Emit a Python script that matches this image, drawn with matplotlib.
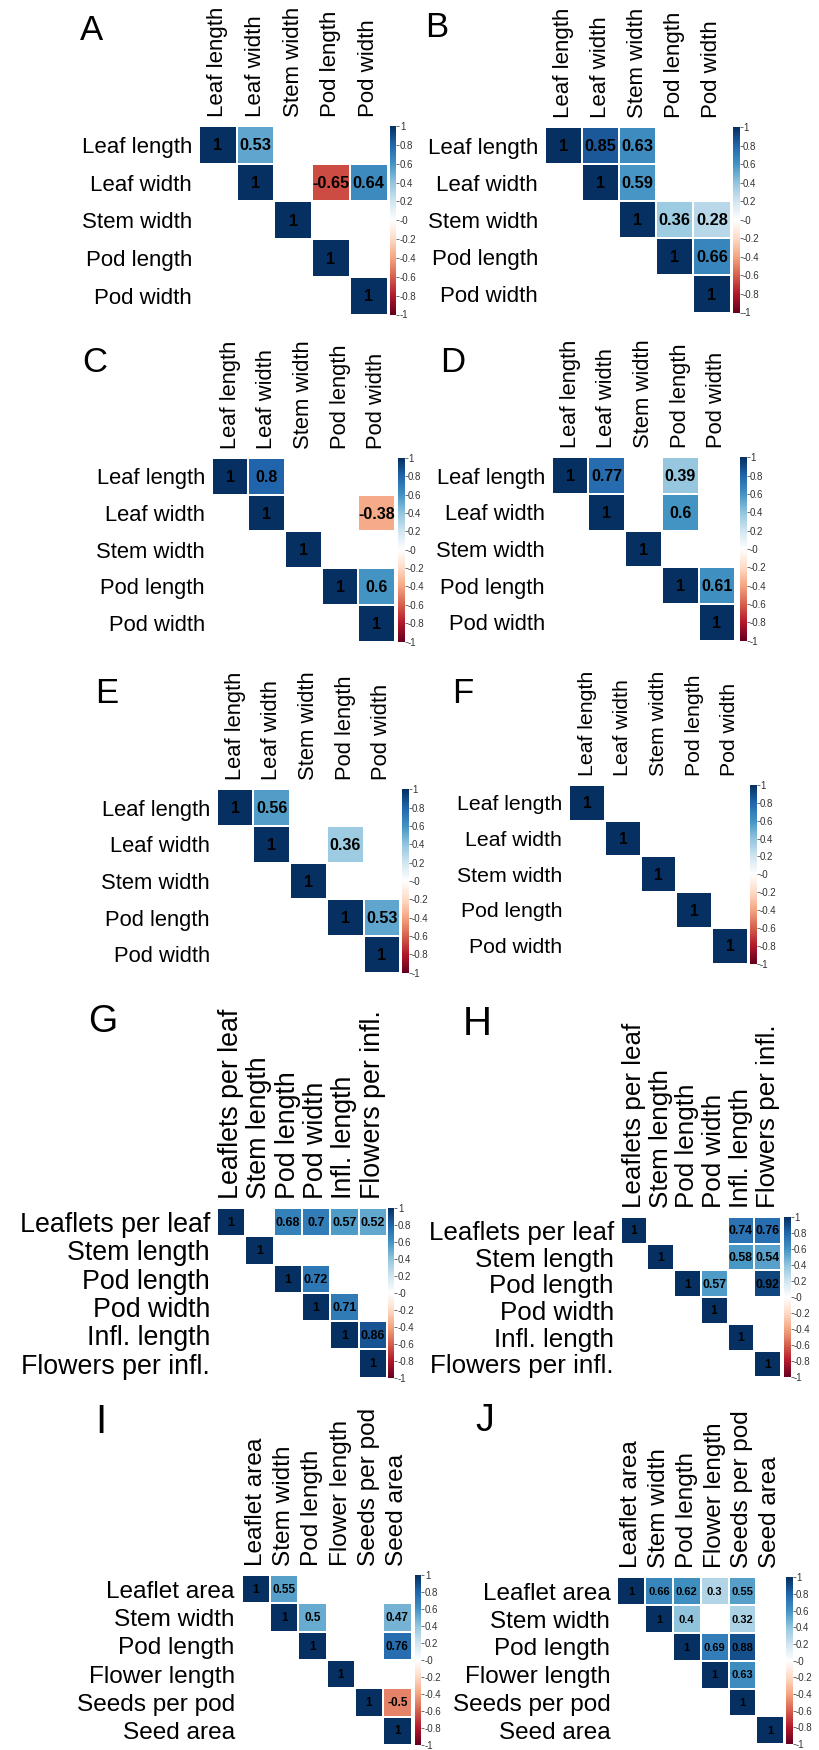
import matplotlib
matplotlib.use("Agg")
import matplotlib.pyplot as plt
import numpy as np
from matplotlib.colors import LinearSegmentedColormap
from matplotlib.cm import ScalarMappable
from matplotlib.colors import Normalize

plt.rcParams['font.family'] = ['Liberation Sans', 'DejaVu Sans']

n = np.nan

# trait names
traits_af = ['Leaf length', 'Leaf width', 'Stem width', 'Pod length', 'Pod width']
traits_gh = ['Leaflets per leaf', 'Stem length', 'Pod length', 'Pod width',
             'Infl. length', 'Flowers per infl.']
traits_ij = ['Leaflet area', 'Stem width', 'Pod length', 'Flower length',
             'Seeds per pod', 'Seed area']

# significant correlations only (upper triangle), blanks are nan
corr_A = [[1, 0.53, n, n, n],
          [n, 1, n, -0.65, 0.64],
          [n, n, 1, n, n],
          [n, n, n, 1, n],
          [n, n, n, n, 1]]
corr_B = [[1, 0.85, 0.63, n, n],
          [n, 1, 0.59, n, n],
          [n, n, 1, 0.36, 0.28],
          [n, n, n, 1, 0.66],
          [n, n, n, n, 1]]
corr_C = [[1, 0.8, n, n, n],
          [n, 1, n, n, -0.38],
          [n, n, 1, n, n],
          [n, n, n, 1, 0.6],
          [n, n, n, n, 1]]
corr_D = [[1, 0.77, n, 0.39, n],
          [n, 1, n, 0.6, n],
          [n, n, 1, n, n],
          [n, n, n, 1, 0.61],
          [n, n, n, n, 1]]
corr_E = [[1, 0.56, n, n, n],
          [n, 1, n, 0.36, n],
          [n, n, 1, n, n],
          [n, n, n, 1, 0.53],
          [n, n, n, n, 1]]
corr_F = [[1, n, n, n, n],
          [n, 1, n, n, n],
          [n, n, 1, n, n],
          [n, n, n, 1, n],
          [n, n, n, n, 1]]
corr_G = [[1, n, 0.68, 0.7, 0.57, 0.52],
          [n, 1, n, n, n, n],
          [n, n, 1, 0.72, n, n],
          [n, n, n, 1, 0.71, n],
          [n, n, n, n, 1, 0.86],
          [n, n, n, n, n, 1]]
corr_H = [[1, n, n, n, 0.74, 0.76],
          [n, 1, n, n, 0.58, 0.54],
          [n, n, 1, 0.57, n, 0.92],
          [n, n, n, 1, n, n],
          [n, n, n, n, 1, n],
          [n, n, n, n, n, 1]]
corr_I = [[1, 0.55, n, n, n, n],
          [n, 1, 0.5, n, n, 0.47],
          [n, n, 1, n, n, 0.76],
          [n, n, n, 1, n, n],
          [n, n, n, n, 1, -0.5],
          [n, n, n, n, n, 1]]
corr_J = [[1, 0.66, 0.62, 0.3, 0.55, n],
          [n, 1, 0.4, n, 0.32, n],
          [n, n, 1, 0.69, 0.88, n],
          [n, n, n, 1, 0.63, n],
          [n, n, n, n, 1, n],
          [n, n, n, n, n, 1]]

# corrplot RdBu palette
cmap = LinearSegmentedColormap.from_list('corr', [
    '#67001F', '#B2182B', '#D6604D', '#F4A582', '#FDDBC7', '#FFFFFF',
    '#D1E5F0', '#92C5DE', '#4393C3', '#2166AC', '#053061'])
norm = Normalize(-1, 1)

W, H = 819, 1750
fig = plt.figure(figsize=(W / 100, H / 100), dpi=100)


def px_axes(x, y_top, w, h):
    return fig.add_axes([x / W, 1 - (y_top + h) / H, w / W, h / H])


# layout: letter, data, names, grid x, grid top, cell, colorbar x,
# label size, number size, letter x, letter baseline, letter size
panels = [
    ('A', corr_A, traits_af, 199, 126, 37.7, 390, 16, 11.8, 80, 40, 25),
    ('B', corr_B, traits_af, 545, 127, 37.1, 733, 16, 11.8, 425, 37, 25),
    ('C', corr_C, traits_af, 211.7, 458, 36.7, 398, 15.8, 11.5, 82, 372, 25),
    ('D', corr_D, traits_af, 551.7, 457.3, 36.7, 740, 15.8, 11.5, 440, 372, 25),
    ('E', corr_E, traits_af, 216.7, 789.3, 36.7, 402, 15.8, 11.5, 95, 703, 25),
    ('F', corr_F, traits_af, 569.3, 785, 35.7, 750, 15.3, 11.2, 452, 703, 25),
    ('G', corr_G, traits_gh, 217, 1208, 28.3, 388, 19.3, 9, 88, 1032, 27),
    ('H', corr_H, traits_gh, 620.7, 1217, 26.7, 784, 18.7, 8.8, 463, 1035, 29),
    ('I', corr_I, traits_ij, 241.7, 1575, 28.3, 415, 17.6, 8.5, 95, 1433, 29),
    ('J', corr_J, traits_ij, 617.3, 1577.3, 27.8, 786, 17.5, 8, 475, 1431, 27),
]

for (letter, mat, names, gx, gy, cell, cbx, lsize, nsize,
     lx, ly, letsize) in panels:
    m = np.array(mat, dtype=float)
    k = len(names)
    ax = px_axes(gx, gy, k * cell, k * cell)
    ax.pcolormesh(np.ma.masked_invalid(m), cmap=cmap, norm=norm,
                  edgecolors='white', linewidth=0.35)
    ax.set_xlim(0, k)
    ax.set_ylim(k, 0)
    for i in range(k):
        for j in range(k):
            if not np.isnan(m[i, j]):
                ax.text(j + 0.5, i + 0.53, f"{m[i, j]:g}", ha='center',
                        va='center', fontsize=nsize, fontweight='bold',
                        color='black')
    ax.set_xticks(np.arange(k) + 0.5)
    ax.set_yticks(np.arange(k) + 0.5)
    ax.xaxis.tick_top()
    ax.set_xticklabels(names, rotation=90, fontsize=lsize, va='bottom')
    ax.set_yticklabels(names, fontsize=lsize)
    ax.tick_params(length=0, pad=5)
    ax.tick_params(axis='x', pad=6.5)
    for s in ax.spines.values():
        s.set_visible(False)

    cax = px_axes(cbx, gy, 6.5, k * cell)
    cb = fig.colorbar(ScalarMappable(norm=norm, cmap=cmap), cax=cax)
    cb.outline.set_visible(False)
    ticks = np.round(np.arange(-1, 1.01, 0.2), 1)
    cb.set_ticks(ticks)
    cb.set_ticklabels([f"{t:g}" for t in ticks])
    cax.tick_params(labelsize=7, length=2, width=0.5, pad=0.5,
                    colors='#333333')

    fig.text(lx / W, 1 - ly / H, letter, fontsize=letsize,
             ha='left', va='baseline')

fig.savefig('out.png', dpi=100, facecolor='white')
